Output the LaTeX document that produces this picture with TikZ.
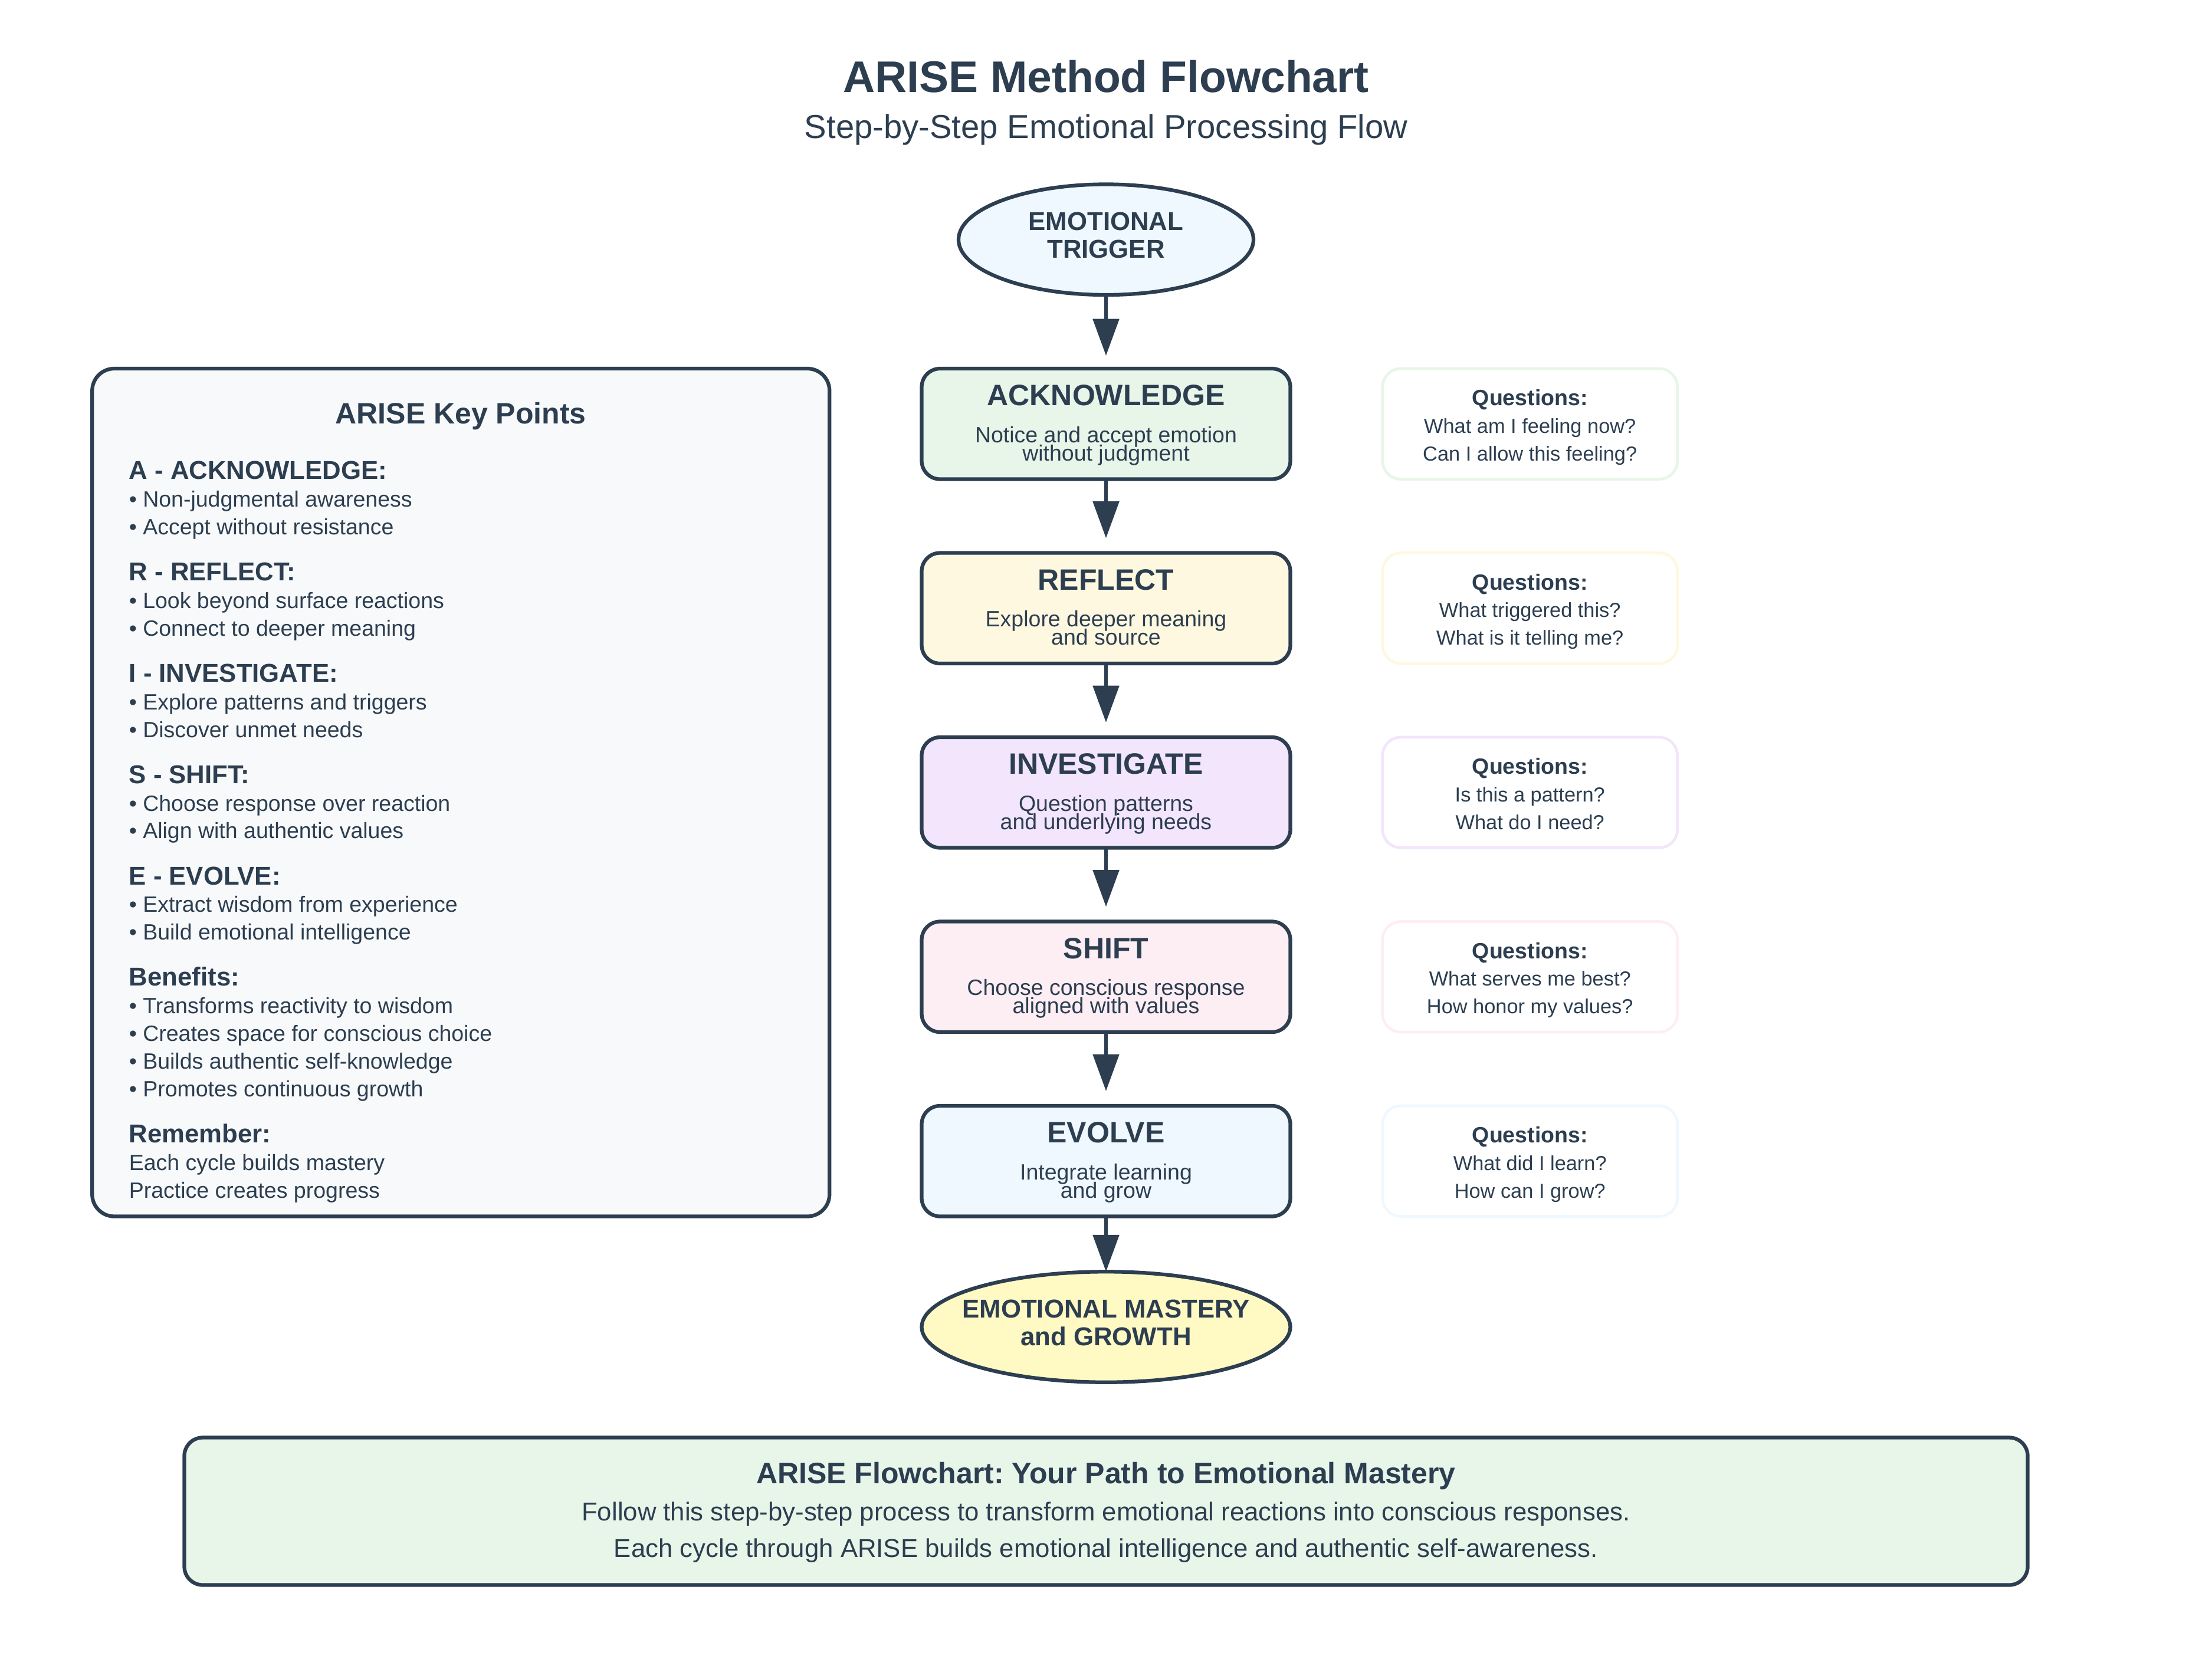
\documentclass[tikz,border=0pt]{standalone}
\usepackage{fontspec}
\setmainfont{Liberation Sans}
\usetikzlibrary{shapes.geometric,arrows.meta}
\frenchspacing
\definecolor{ink}{HTML}{2C3E50}
\definecolor{trigfill}{HTML}{F0F8FF}
\definecolor{ackfill}{HTML}{E8F5E9}
\definecolor{reffill}{HTML}{FFF8E1}
\definecolor{invfill}{HTML}{F3E5FC}
\definecolor{shiftfill}{HTML}{FDEEF4}
\definecolor{evofill}{HTML}{F0F8FF}
\definecolor{mastfill}{HTML}{FFF9C4}
\definecolor{keyfill}{HTML}{F8F9FA}
\newcommand{\fsz}[1]{\fontsize{#1}{#1}\selectfont}
\tikzset{
  stepbox/.style={draw=ink, line width=2pt, rounded corners=10pt, minimum width=200pt, minimum height=60pt, inner sep=0pt, outer sep=0pt},
  qbox/.style={line width=1.5pt, fill=white, rounded corners=10pt, minimum width=160pt, minimum height=60pt, inner sep=0pt, outer sep=0pt},
  endoval/.style={ellipse, draw=ink, line width=2pt, inner sep=0pt, outer sep=0pt, minimum height=60pt},
  panel/.style={draw=ink, line width=2pt, inner sep=0pt, outer sep=0pt},
  txt/.style={text=ink, inner sep=0pt, outer sep=0pt, anchor=base},
  ltxt/.style={text=ink, inner sep=0pt, outer sep=0pt, anchor=base west},
  boxtitle/.style={txt, font=\bfseries\fsz{16}},
  boxdesc/.style={txt, font=\fsz{12}},
  qhead/.style={txt, font=\bfseries\fsz{12}},
  qline/.style={txt, font=\fsz{11}},
  khead/.style={ltxt, font=\bfseries\fsz{14}},
  kline/.style={ltxt, font=\fsz{12}},
  arr/.style={draw=ink, line width=2pt, -{Triangle[length=20pt,width=14pt]}},
}
\begin{document}
\begin{tikzpicture}[x=1pt, y=-1pt]
\useasboundingbox[fill=white] (0,0) rectangle (1200,900);

% Title
\node[txt, font=\bfseries\fsz{24}] (title) at (600,50) {ARISE Method Flowchart};
\node[txt, font=\fsz{18}] (subtitle) at (600,75) {Step-by-Step Emotional Processing Flow};

% Start oval
\node[endoval, fill=trigfill, minimum width=160pt] (trig) at (600,130) {};
\node[txt, font=\bfseries\fsz{14}] (trigA) at (600,125) {EMOTIONAL};
\node[txt, font=\bfseries\fsz{14}] (trigB) at (600,140) {TRIGGER};

% Steps
\node[stepbox, fill=ackfill] (ack) at (600,230) {};
\node[boxtitle] (ackT) at (600,220) {ACKNOWLEDGE};
\node[boxdesc] (ackD1) at (600,240) {Notice and accept emotion};
\node[boxdesc] (ackD2) at (600,250) {without judgment};

\node[stepbox, fill=reffill] (ref) at (600,330) {};
\node[boxtitle] (refT) at (600,320) {REFLECT};
\node[boxdesc] (refD1) at (600,340) {Explore deeper meaning};
\node[boxdesc] (refD2) at (600,350) {and source};

\node[stepbox, fill=invfill] (inv) at (600,430) {};
\node[boxtitle] (invT) at (600,420) {INVESTIGATE};
\node[boxdesc] (invD1) at (600,440) {Question patterns};
\node[boxdesc] (invD2) at (600,450) {and underlying needs};

\node[stepbox, fill=shiftfill] (shf) at (600,530) {};
\node[boxtitle] (shfT) at (600,520) {SHIFT};
\node[boxdesc] (shfD1) at (600,540) {Choose conscious response};
\node[boxdesc] (shfD2) at (600,550) {aligned with values};

\node[stepbox, fill=evofill] (evo) at (600,630) {};
\node[boxtitle] (evoT) at (600,620) {EVOLVE};
\node[boxdesc] (evoD1) at (600,640) {Integrate learning};
\node[boxdesc] (evoD2) at (600,650) {and grow};

% End oval
\node[endoval, fill=mastfill, minimum width=200pt] (mast) at (600,720) {};
\node[txt, font=\bfseries\fsz{14}] (mastA) at (600,715) {EMOTIONAL MASTERY};
\node[txt, font=\bfseries\fsz{14}] (mastB) at (600,730) {and GROWTH};

% Arrows
\draw[arr, shorten >=7pt] (trig.south) -- (ack.north);
\draw[arr, shorten >=8pt] (ack.south) -- (ref.north);
\draw[arr, shorten >=8pt] (ref.south) -- (inv.north);
\draw[arr, shorten >=8pt] (inv.south) -- (shf.north);
\draw[arr, shorten >=8pt] (shf.south) -- (evo.north);
\draw[arr] (evo.south) -- (mast.north);

% Question boxes
\node[qbox, draw=ackfill] (q1) at (830,230) {};
\node[qhead] at (830,220) {Questions:};
\node[qline] at (830,235) {What am I feeling now?};
\node[qline] at (830,250) {Can I allow this feeling?};

\node[qbox, draw=reffill] (q2) at (830,330) {};
\node[qhead] at (830,320) {Questions:};
\node[qline] at (830,335) {What triggered this?};
\node[qline] at (830,350) {What is it telling me?};

\node[qbox, draw=invfill] (q3) at (830,430) {};
\node[qhead] at (830,420) {Questions:};
\node[qline] at (830,435) {Is this a pattern?};
\node[qline] at (830,450) {What do I need?};

\node[qbox, draw=shiftfill] (q4) at (830,530) {};
\node[qhead] at (830,520) {Questions:};
\node[qline] at (830,535) {What serves me best?};
\node[qline] at (830,550) {How honor my values?};

\node[qbox, draw=evofill] (q5) at (830,630) {};
\node[qhead] at (830,620) {Questions:};
\node[qline] at (830,635) {What did I learn?};
\node[qline] at (830,650) {How can I grow?};

% Key points panel
\node[panel, fill=keyfill, rounded corners=12pt, minimum width=400pt, minimum height=460pt] (key) at (250,430) {};
\node[txt, font=\bfseries\fsz{16}] (keyT) at (250,230) {ARISE Key Points};
\node[khead] at (70,260) {A - ACKNOWLEDGE:};
\node[kline] at (70,275) {• Non-judgmental awareness};
\node[kline] at (70,290) {• Accept without resistance};
\node[khead] at (70,315) {R - REFLECT:};
\node[kline] at (70,330) {• Look beyond surface reactions};
\node[kline] at (70,345) {• Connect to deeper meaning};
\node[khead] at (70,370) {I - INVESTIGATE:};
\node[kline] at (70,385) {• Explore patterns and triggers};
\node[kline] at (70,400) {• Discover unmet needs};
\node[khead] at (70,425) {S - SHIFT:};
\node[kline] at (70,440) {• Choose response over reaction};
\node[kline] at (70,455) {• Align with authentic values};
\node[khead] at (70,480) {E - EVOLVE:};
\node[kline] at (70,495) {• Extract wisdom from experience};
\node[kline] at (70,510) {• Build emotional intelligence};
\node[khead] at (70,535) {Benefits:};
\node[kline] at (70,550) {• Transforms reactivity to wisdom};
\node[kline] at (70,565) {• Creates space for conscious choice};
\node[kline] at (70,580) {• Builds authentic self-knowledge};
\node[kline] at (70,595) {• Promotes continuous growth};
\node[khead] at (70,620) {Remember:};
\node[kline] at (70,635) {Each cycle builds mastery};
\node[kline] at (70,650) {Practice creates progress};

% Bottom summary panel
\node[panel, fill=ackfill, rounded corners=10pt, minimum width=1000pt, minimum height=80pt] (sum) at (600,820) {};
\node[txt, font=\bfseries\fsz{16}] (sumT) at (600,805) {ARISE Flowchart: Your Path to Emotional Mastery};
\node[txt, font=\fsz{14}] (sum1) at (600,825) {Follow this step-by-step process to transform emotional reactions into conscious responses.};
\node[txt, font=\fsz{14}] (sum2) at (600,845) {Each cycle through ARISE builds emotional intelligence and authentic self-awareness.};
\end{tikzpicture}
\end{document}
